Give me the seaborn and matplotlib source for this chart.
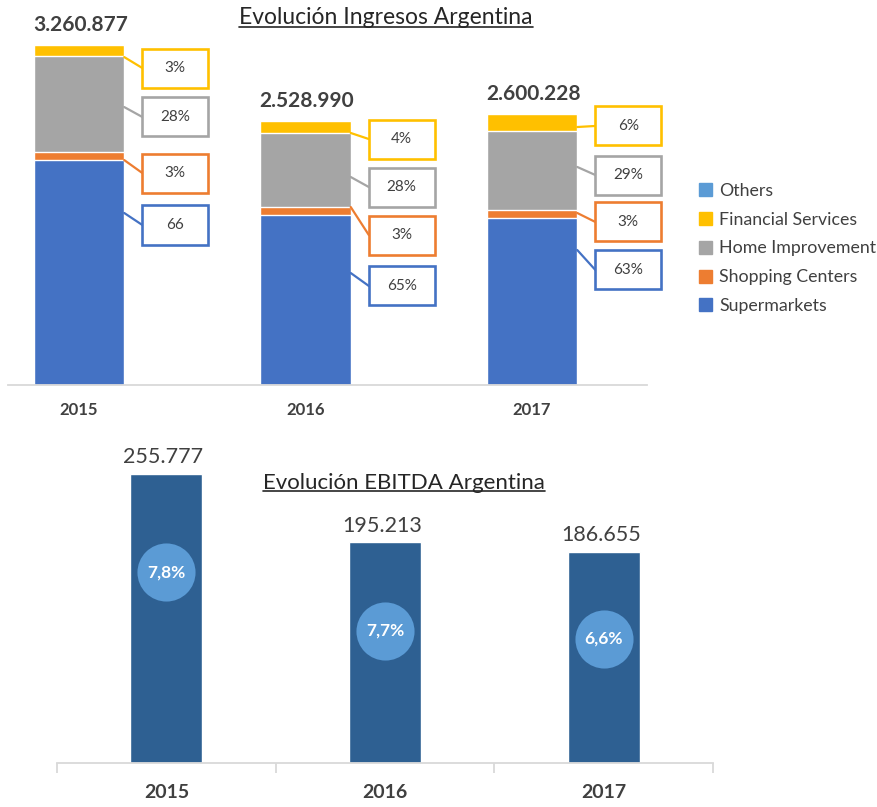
import matplotlib
matplotlib.use("Agg")
import matplotlib.pyplot as plt
import seaborn as sns
from matplotlib.patches import Patch, Rectangle
from matplotlib.lines import Line2D

# --- data -------------------------------------------------------------
years = ["2015", "2016", "2017"]
ingresos_total = [3260877, 2528990, 2600228]
ingresos_labels = ["3.260.877", "2.528.990", "2.600.228"]

segments = ["Supermarkets", "Shopping Centers", "Home Improvement", "Financial Services", "Others"]
share_supermarkets = [0.660, 0.642, 0.615]
share_shopping = [0.024, 0.030, 0.030]
share_home = [0.280, 0.280, 0.288]
share_financial = [0.032, 0.045, 0.064]
share_others = [0.004, 0.003, 0.003]

# box labels, top to bottom: financial, home, shopping, supermarkets
box_text = [["3%", "28%", "3%", "66"],
            ["4%", "28%", "3%", "65%"],
            ["6%", "29%", "3%", "63%"]]

ebitda = [255777, 195213, 186655]
ebitda_labels = ["255.777", "195.213", "186.655"]
ebitda_margin = ["7,8%", "7,7%", "6,6%"]

# --- style ------------------------------------------------------------
colors = {"Supermarkets": "#4472C4", "Shopping Centers": "#ED7D31",
          "Home Improvement": "#A5A5A5", "Financial Services": "#FFC000",
          "Others": "#5B9BD5"}
box_colors = ["#FFC000", "#A5A5A5", "#ED7D31", "#4472C4"]
# leader anchor / box centre heights (data units) for each year
anchor_y = [[3136e3, 2658e3, 2151e3, 1645e3],
            [2410e3, 1989e3, 1702e3, 1071e3],
            [2467e3, 2085e3, 1645e3, 1291e3]]
box_y = [[3031e3, 2563e3, 2027e3, 1530e3],
         [2352e3, 1893e3, 1434e3, 947e3],
         [2477e3, 2008e3, 1559e3, 1100e3]]
circle_frac = [0.66, 0.60, 0.59]
dark = "#404040"

sns.set_theme(style="white")
plt.rcParams["font.family"] = ["Lato", "DejaVu Sans"]

W, H = 877, 807
fig = plt.figure(figsize=(W / 100, H / 100), dpi=100)

# ===== top chart: Ingresos =====
ax1 = fig.add_axes([8 / W, (H - 385) / H, (647 - 8) / W, 385 / H])
shares = [share_supermarkets, share_shopping, share_home, share_financial, share_others]
cum = [[0.0] * 3 for _ in range(5)]
for i in range(3):
    run = 0.0
    for k in range(5):
        run += shares[k][i] * ingresos_total[i]
        cum[k][i] = run
# draw from the top layer down so each lower stack covers the one above
for k in range(4, -1, -1):
    sns.barplot(x=years, y=cum[k], color=colors[segments[k]], width=0.4,
                saturation=1, ax=ax1)

ax1.set_xlim(-0.313, 2.508)
ax1.set_ylim(0, 3.6816e6)
for i in range(3):
    ax1.annotate(ingresos_labels[i], (i, ingresos_total[i]), xytext=(1, 14),
                 textcoords="offset points", ha="center", va="center",
                 fontsize=15, fontweight="bold", color=dark)
    for j in range(4):
        ax1.plot([i + 0.2, i + 0.28], [anchor_y[i][j], box_y[i][j]],
                 color=box_colors[j], lw=1.6, zorder=3, clip_on=False)
        bh = 373e3
        ax1.add_patch(Rectangle((i + 0.28, box_y[i][j] - bh / 2), 0.29, bh,
                                facecolor="white", edgecolor=box_colors[j],
                                lw=1.9, zorder=4, clip_on=False))
        ax1.text(i + 0.425, box_y[i][j], box_text[i][j], ha="center", va="center",
                 fontsize=11, color=dark, zorder=5)

sns.despine(ax=ax1, left=True, top=True, right=True)
ax1.spines["bottom"].set_color("#D9D9D9")
ax1.spines["bottom"].set_linewidth(1.3)
ax1.set_yticks([])
ax1.set_xlabel("")
ax1.tick_params(axis="x", length=0, pad=12, labelsize=12, labelcolor=dark)
for t in ax1.get_xticklabels():
    t.set_fontweight("bold")

handles = [Patch(color=colors[s], label=s) for s in segments[::-1]]
fig.legend(handles=handles, loc="upper left", bbox_to_anchor=(690 / W, 1 - 174 / H),
           frameon=False, fontsize=12.8, handlelength=0.75, handleheight=0.75,
           handletextpad=0.4, labelspacing=0.72, labelcolor=dark, borderpad=0)

t1 = fig.text(386 / W, 1 - 18 / H, "Evolución Ingresos Argentina", ha="center",
              va="center", fontsize=16.5, color="#262626")

# ===== bottom chart: EBITDA =====
ax2 = fig.add_axes([57 / W, (H - 763) / H, (713 - 57) / W, (763 - 440) / H])
sns.barplot(x=years, y=ebitda, color="#2E6092", width=0.33, saturation=1, ax=ax2)
ax2.set_xlim(-0.5, 2.5)
ax2.set_ylim(0, 285900)
circ_y = [ebitda[i] * circle_frac[i] for i in range(3)]
ax2.scatter(range(3), circ_y, s=1750, color="#5B9BD5", zorder=3, linewidths=0)
for i in range(3):
    ax2.annotate(ebitda_labels[i], (i, ebitda[i]), xytext=(-2, 12),
                 textcoords="offset points", ha="center", va="center",
                 fontsize=15.5, color=dark)
    ax2.text(i, circ_y[i], ebitda_margin[i], ha="center", va="center",
             fontsize=12.5, fontweight="bold", color="white", zorder=4)

sns.despine(ax=ax2, left=True, top=True, right=True)
ax2.spines["bottom"].set_color("#D9D9D9")
ax2.spines["bottom"].set_linewidth(1.3)
ax2.set_yticks([])
ax2.set_xticks([-0.5, 0.5, 1.5, 2.5], minor=True)
ax2.tick_params(axis="x", which="minor", length=7, width=1.3, color="#D9D9D9",
                direction="out", bottom=True)
ax2.tick_params(axis="x", which="major", length=0, pad=15, labelsize=14,
                labelcolor=dark)
for t in ax2.get_xticklabels():
    t.set_fontweight("bold")

t2 = fig.text(404 / W, 1 - 483 / H, "Evolución EBITDA Argentina", ha="center",
              va="center", fontsize=16, color="#262626")

# underline the titles
fig.canvas.draw()
r = fig.canvas.get_renderer()
for t in (t1, t2):
    bb = t.get_window_extent(r)
    y = bb.y0 + 2
    fig.add_artist(Line2D([bb.x0 / W, bb.x1 / W], [y / H, y / H], color="#262626",
                          lw=1.2, transform=fig.transFigure))

fig.savefig("out.png", dpi=100)
